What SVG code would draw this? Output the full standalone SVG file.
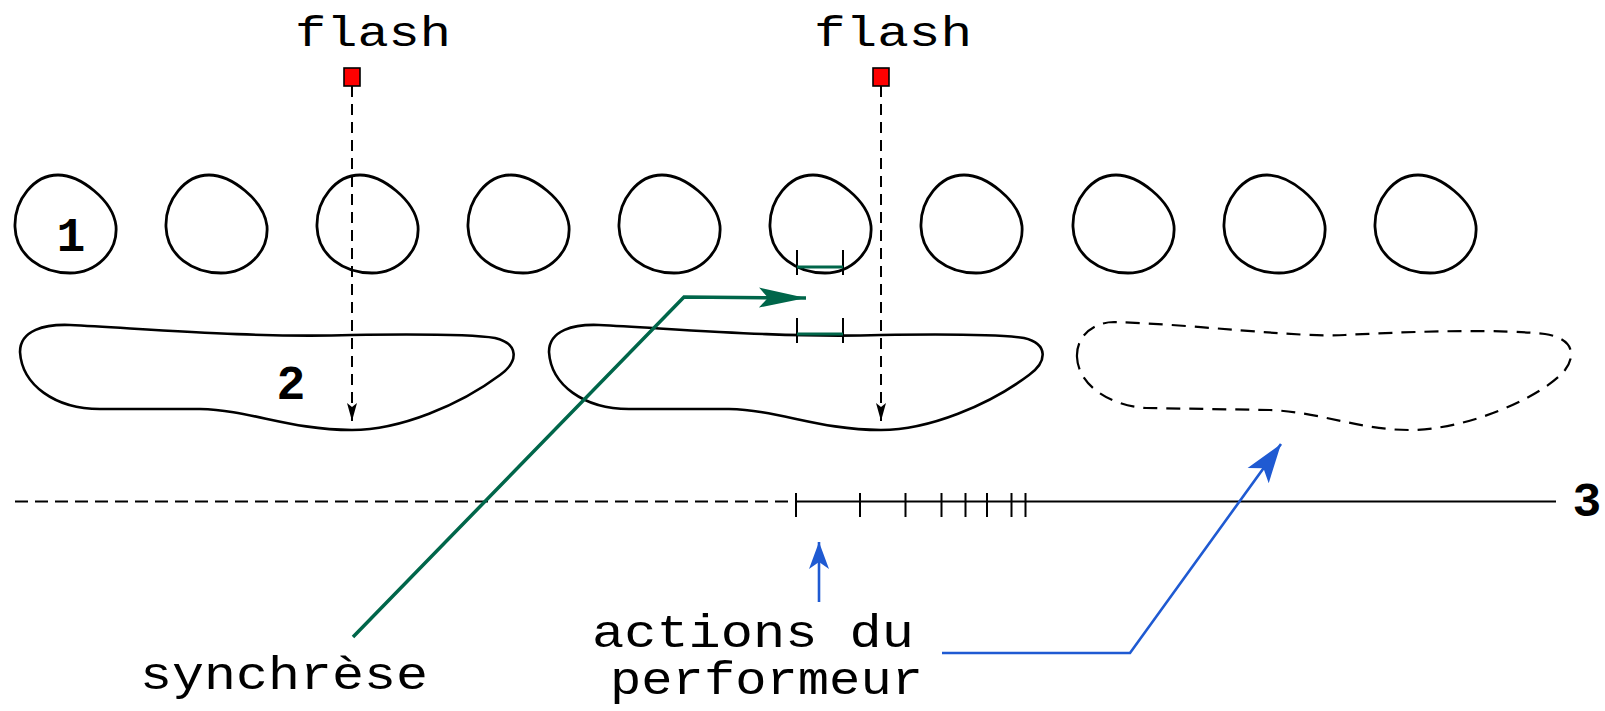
<svg xmlns="http://www.w3.org/2000/svg" xmlns:xlink="http://www.w3.org/1999/xlink" width="1605" height="711" viewBox="0 0 1605 711">
<style>
.egg{fill:none;stroke:#000;stroke-width:2.8}
.blob{fill:none;stroke:#000;stroke-width:2.6}
.blobd{fill:none;stroke:#000;stroke-width:2.2;stroke-dasharray:14 9}
.mono{font-family:"Liberation Mono","DejaVu Sans Mono",monospace;fill:#000}
.num{font-family:"Liberation Mono","DejaVu Sans Mono",monospace;font-weight:bold;font-size:48px;fill:#000;text-anchor:middle}
.flashline{fill:none;stroke:#000;stroke-width:2;stroke-dasharray:11 7}
.sq{fill:#ff0000;stroke:#000;stroke-width:1.6}
.tick{stroke:#000;stroke-width:2;fill:none}
.green{fill:none;stroke:#00664a;stroke-width:3.5}
.greenb{fill:none;stroke:#00664a;stroke-width:3}
.blue{fill:none;stroke:#1f5ad2;stroke-width:2.6}
</style>
<defs>
<path id="egg" d="M -8 -49 C 14 -49 47 -24 50 2 C 52 28 30 49 4 49 C -24 49 -50 32 -51 3 C -52 -24 -32 -49 -8 -49 Z"/>
<marker id="mflash" markerUnits="userSpaceOnUse" viewBox="-20 -6 22 12" refX="0" refY="0" markerWidth="22" markerHeight="12" orient="auto">
<path d="M 0 0 L -18 -5 L -14 0 L -18 5 Z" fill="#000"/>
</marker>
<marker id="mgreen" markerUnits="userSpaceOnUse" viewBox="-50 -12 52 24" refX="0" refY="0" markerWidth="52" markerHeight="24" orient="auto">
<path d="M 0 0 L -47 -10 L -38 0 L -47 10 Z" fill="#00664a"/>
</marker>
<marker id="mblue" markerUnits="userSpaceOnUse" viewBox="-42 -15 44 30" refX="0" refY="0" markerWidth="44" markerHeight="30" orient="auto">
<path d="M 0 0 L -39 -13 L -30 0 L -39 13 Z" fill="#1f5ad2"/>
</marker>
<marker id="mblue2" markerUnits="userSpaceOnUse" viewBox="-30 -12 32 24" refX="0" refY="0" markerWidth="32" markerHeight="24" orient="auto">
<path d="M 0 0 L -27 -10 L -20 0 L -27 10 Z" fill="#1f5ad2"/>
</marker>
</defs>

<g id="eggs">
<g id="egg1"><use xlink:href="#egg" href="#egg" x="66" y="224" class="egg"/><text class="num" x="71" y="251">1</text></g>
<g id="egg2"><use xlink:href="#egg" href="#egg" x="217" y="224" class="egg"/></g>
<g id="egg3"><use xlink:href="#egg" href="#egg" x="368" y="224" class="egg"/></g>
<g id="egg4"><use xlink:href="#egg" href="#egg" x="519" y="224" class="egg"/></g>
<g id="egg5"><use xlink:href="#egg" href="#egg" x="670" y="224" class="egg"/></g>
<g id="egg6"><use xlink:href="#egg" href="#egg" x="821" y="224" class="egg"/></g>
<g id="egg7"><use xlink:href="#egg" href="#egg" x="972" y="224" class="egg"/></g>
<g id="egg8"><use xlink:href="#egg" href="#egg" x="1124" y="224" class="egg"/></g>
<g id="egg9"><use xlink:href="#egg" href="#egg" x="1275" y="224" class="egg"/></g>
<g id="egg10"><use xlink:href="#egg" href="#egg" x="1426" y="224" class="egg"/></g>
</g>

<g id="blob1">
<path class="blob" d="M 20 352 C 20 330 45 324 70 325 C 150 329 250 338 352 335 C 420 334 470 334 495 338 C 520 344 518 362 500 375 C 460 405 400 430 352 430 C 290 430 250 410 200 409 L 100 409 C 55 409 22 385 20 352 Z"/>
<text class="num" x="291" y="399">2</text>
</g>
<g id="blob2">
<path class="blob" transform="translate(529,0)" d="M 20 352 C 20 330 45 324 70 325 C 150 329 250 338 352 335 C 420 334 470 334 495 338 C 520 344 518 362 500 375 C 460 405 400 430 352 430 C 290 430 250 410 200 409 L 100 409 C 55 409 22 385 20 352 Z"/>
</g>
<g id="blob3">
<path class="blobd" d="M 1077 357 C 1076 335 1095 322 1114 322 C 1190 324 1300 338 1345 335 C 1420 331 1500 329 1545 334 C 1570 338 1578 352 1565 370 C 1545 395 1470 430 1409 430 C 1360 430 1320 412 1270 410 L 1146 408 C 1110 406 1078 385 1077 357 Z"/>
</g>

<g id="flash1">
<text class="mono" x="295" y="46" font-size="42" textLength="156" lengthAdjust="spacingAndGlyphs">flash</text>
<rect class="sq" x="344" y="68" width="16" height="18"/>
</g>
<g id="flash2">
<text class="mono" x="814" y="46" font-size="42" textLength="158" lengthAdjust="spacingAndGlyphs">flash</text>
<rect class="sq" x="873" y="68" width="16" height="18"/>
</g>

<g id="timeline">
<line x1="15" y1="501.5" x2="796" y2="501.5" stroke="#000" stroke-width="2.2" stroke-dasharray="13 7"/>
<line x1="796" y1="501.5" x2="1556" y2="501.5" stroke="#000" stroke-width="2.2"/>
<path class="tick" d="M 796 493 V 517 M 860 493 V 517 M 905.5 493 V 517 M 941.5 493 V 517 M 965.5 493 V 517 M 987 493 V 517 M 1011.5 493 V 517 M 1025.5 493 V 517"/>
<text class="num" x="1587" y="516">3</text>
</g>

<g id="brackets">
<path class="tick" d="M 797 250 V 275 M 843 250 V 275 M 797 318 V 343 M 843 318 V 343"/>
<path class="greenb" d="M 797 267 H 843 M 797 334 H 843"/>
</g>

<g id="labels">
<text class="mono" x="140" y="689" font-size="46" textLength="288" lengthAdjust="spacingAndGlyphs">synchrèse</text>
<text class="mono" x="592" y="647" font-size="46" textLength="322" lengthAdjust="spacingAndGlyphs">actions du</text>
<text class="mono" x="610" y="694" font-size="46" textLength="313" lengthAdjust="spacingAndGlyphs">performeur</text>
</g>

<g id="connectors">
<line class="flashline" x1="352" y1="86" x2="352" y2="421" marker-end="url(#mflash)"/>
<line class="flashline" x1="881" y1="86" x2="881" y2="421" marker-end="url(#mflash)"/>
<polyline class="green" points="353,637 684,297 806,298" marker-end="url(#mgreen)"/>
<line class="blue" x1="819" y1="602" x2="819" y2="542" marker-end="url(#mblue2)"/>
<polyline class="blue" points="942,653 1130,653 1281,444" marker-end="url(#mblue)"/>
</g>
</svg>
